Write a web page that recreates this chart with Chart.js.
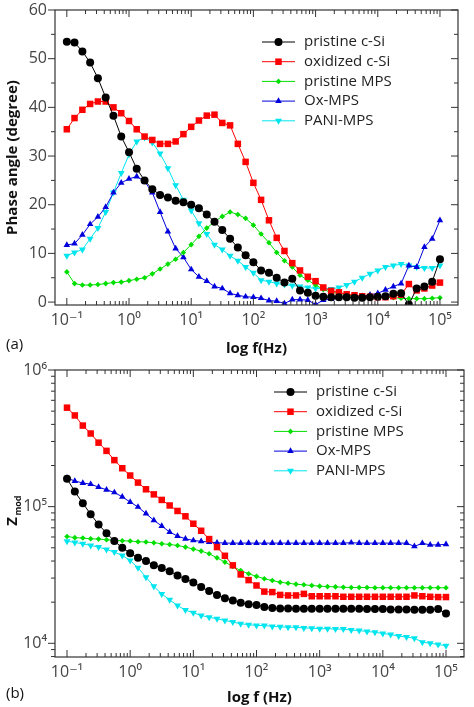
<!DOCTYPE html>
<html>
<head>
<meta charset="utf-8">
<script src="https://cdn.jsdelivr.net/npm/chart.js@4.4.0/dist/chart.umd.min.js"></script>
<style>
  body { margin: 0; background: #fff; }
  .panel { position: absolute; left: 0; width: 474px; }
</style>
</head>
<body>
<div class="panel" style="top:0;height:360px"><canvas id="phaseChart" width="474" height="360"></canvas></div>
<div class="panel" style="top:360px;height:347px"><canvas id="zmodChart" width="474" height="347"></canvas></div>
<script>
// Frequencies (Hz), 8 points per decade
const freq = [
  0.1, 0.133, 0.178, 0.237, 0.316, 0.422, 0.562, 0.75,
  1, 1.33, 1.78, 2.37, 3.16, 4.22, 5.62, 7.5,
  10, 13.3, 17.8, 23.7, 31.6, 42.2, 56.2, 75,
  100, 133, 178, 237, 316, 422, 562, 750,
  1000, 1330, 1780, 2370, 3160, 4220, 5620, 7500,
  10000, 13300, 17800, 23700, 31600, 42200, 56200, 75000, 100000
];
const seriesNames = ['pristine c-Si', 'oxidized c-Si', 'pristine MPS', 'Ox-MPS', 'PANI-MPS'];
const seriesColors = ['#000000', '#ff0000', '#00e000', '#0000dd', '#00e5ee'];

// Phase angle (degree)
const phasePristineSi = [53.5,53.3,51.5,49.2,46,42,38.3,34,30.8, 27.4,25,23.2,22,21.5,20.8,20.5,20,
  19.3,18,16.5,14.8,13,11.2,9.6,8.2, 6.5,6,5,4,4.8,2.4,1.9,1.3, 1.1,1,1,1,0.9,0.9,1,1.1,
  1.2,1.7,1.8,-0.5,2.8,3.2,4.2,8.8];
const phaseOxSi = [35.5,37.8,39.5,40.7,41.2,41.2,40,38.8,37.2, 35.5,34,33.3,32.5,32.5,33,34.5,36,
  37.3,38.3,38.5,36.8,36.3,32.5,28.8,24.5, 21,16.8,13.2,10.5,8,6.5,5.2,4.3, 3,2.3,2,1.6,1.4,1.2,1.1,1,
  1,1.2,1.5,3.7,2.4,2.8,3.4,4];
const phasePristineMps = [6.2,3.8,3.5,3.5,3.6,3.8,4,4.1,4.4, 4.7,5,5.8,6.8,7.8,8.8,10.2,11.8,
  13.5,15.2,16.5,17.6,18.5,18,17.2,15.8, 14,12.2,10.2,8.5,7.2,5.5,4.5,3.5, 2.6,2,1.8,1.5,1.3,1.2,1.2,1,
  1,0.9,0.8,0.7,0.7,0.7,0.8,0.9];
const phaseOxMps = [11.7,12,13.8,16,17.5,19.5,22.5,24.5,25.3, 25.8,24.8,22.5,18.5,14.5,11,9.2,6.7,
  5.2,4.3,3.2,2.8,1.8,1.4,1.1,1, 0.8,0.3,0.2,-0.3,0.5,0.5,0.4,-0.5, 0.4,0.6,0.8,1,1,1.2,1.5,1.8,
  2.5,3.2,3.8,7.5,7.2,11.3,13,16.8];
const phasePaniMps = [9.5,10.2,10.8,13,15.2,18.5,22.5,26.5,30.3, 33,33.8,32.8,30.5,27.5,24,21,18.8,
  16.2,14,11.8,10.8,9.5,8.5,7.2,6, 4.5,4.2,3.8,3.6,3.4,3.2,3,2.8, 2.8,2.7,3,3.5,4.2,5,5.8,6.5,
  7.2,7.5,7.8,7.5,7.2,7,7,7.5];

// Zmod (ohm, in thousands)
const zPristineSi = [160,129,106,88,74,64,56,50,45.7, 42.2,40,37.3,35.5,33.7,31.4,29.6,27.9,
  25.8,24.1,22.6,21.4,20.6,19.8,19.3,19.1, 18.4,18.1,18,18,17.9,17.9,17.9,17.9, 17.9,17.9,17.9,17.9,17.9,17.8,17.8,17.8,
  17.7,17.7,17.7,17.6,17.6,17.6,17.8,16.5];
const zOxSi = [530,465,392,343,294,256,219,191,169, 150,134,123,112,102,93,85,75,
  66.6,57.9,50.6,43.7,37.2,31.9,29,26.5, 23.9,23.7,22.6,22.4,22.4,23,22.1,22.1, 22.1,22.1,21.9,21.9,21.9,21.9,21.9,21.9,
  21.9,21.9,21.9,22.4,22.1,21.9,21.8,21.8];
const zPristineMps = [60.5,59.3,58.9,58.2,57.9,57.3,56.6,56.3,56, 55.4,55.1,54.5,53.5,52.9,52,50.6,48.9,
  47.3,45.2,42.2,39.3,36.5,34.1,32.3,30.9, 29.7,28.8,28,27.5,27.1,26.8,26.5,26.2, 26,25.9,25.7,25.6,25.6,25.6,25.5,25.5,
  25.5,25.5,25.5,25.5,25.5,25.5,25.5,25.5];
const zOxMps = [162,154,149,146,139,133,127,118,108, 99.5,88.9,79.4,72.2,65.2,60.9,58.2,56.6,
  55.7,55.1,54.5,54.1,54.1,54.1,54.1,54.1, 54.1,54.1,54.1,54.1,54.1,54.1,54.1,54.1, 54.1,54.1,54.1,54.5,54.1,54.1,54.1,54.1,
  54.1,54.1,54.1,51.2,54,52.5,52.5,53];
const zPaniMps = [55.8,54.7,53.5,52,50.6,48.6,46.5,43.9,40.4, 35.7,30.5,26.1,23,20.8,18.9,17.5,16.7,
  16,15.5,15.1,14.7,14.3,13.9,13.7,13.5, 13.5,13.3,13.2,13.1,13.1,12.96,12.9,12.8, 12.8,12.7,12.7,12.5,12.4,12.2,12.05,11.8,
  11.6,11.3,11.1,10.9,10.2,10,9.8,9.6];

const xTickLabels = ['10⁻¹', '10⁰', '10¹', '10²', '10³', '10⁴', '10⁵'];
const phaseTicks = [0, 10, 20, 30, 40, 50, 60];
const zTickLabels = ['10⁴', '10⁵', '10⁶'];

const markers = [
  { style: 'circle', r: 4, rot: 0 },
  { style: 'rect', r: 4.6, rot: 0 },
  { style: 'rectRot', r: 2.8, rot: 0 },
  { style: 'triangle', r: 3.8, rot: 0 },
  { style: 'triangle', r: 4, rot: 180 }
];

function makeDatasets(list, scale) {
  return list.map((vals, i) => ({
    label: seriesNames[i],
    data: vals.map((v, k) => ({ x: freq[k], y: v * scale })),
    borderColor: seriesColors[i],
    backgroundColor: seriesColors[i],
    borderWidth: 1,
    pointStyle: markers[i].style,
    pointRadius: markers[i].r,
    pointRotation: markers[i].rot,
    pointBorderWidth: 0,
    tension: 0
  }));
}

const FONT = '"Open Sans", "DejaVu Sans", sans-serif';

// Frame, ticks, tick labels, titles and legend
function framePlugin(cfg) {
  return {
    id: 'frame',
    afterDraw(chart) {
      const ctx = chart.ctx;
      const a = chart.chartArea;
      const xs = chart.scales.x, ys = chart.scales.y;
      ctx.save();
      ctx.strokeStyle = '#333';
      ctx.lineWidth = 1.2;
      ctx.strokeRect(a.left, a.top, a.right - a.left, a.bottom - a.top);
      ctx.lineWidth = 1;
      // x ticks (major + minor), inside at bottom and top
      for (let d = -1; d <= 5; d++) {
        for (let m = 1; m <= 9; m++) {
          const v = m * Math.pow(10, d);
          if (v < xs.min || v > xs.max) continue;
          const px = xs.getPixelForValue(v);
          const len = m === 1 ? 7 : 4;
          ctx.beginPath();
          ctx.moveTo(px, a.bottom); ctx.lineTo(px, a.bottom - len);
          ctx.moveTo(px, a.top); ctx.lineTo(px, a.top + len);
          ctx.stroke();
        }
      }
      // y ticks
      cfg.yTicks.forEach(t => {
        const py = ys.getPixelForValue(t.v);
        const len = t.major ? 7 : 4;
        ctx.beginPath();
        ctx.moveTo(a.left - len, py); ctx.lineTo(a.left, py);
        ctx.moveTo(a.right, py); ctx.lineTo(a.right - len, py);
        ctx.stroke();
      });
      // tick labels
      ctx.fillStyle = '#444';
      ctx.font = '16px ' + FONT;
      ctx.textAlign = 'center';
      ctx.textBaseline = 'top';
      xTickLabels.forEach((lab, i) => {
        ctx.fillText(lab, xs.getPixelForValue(Math.pow(10, i - 1)), a.bottom + 7);
      });
      ctx.textAlign = 'right';
      ctx.textBaseline = 'middle';
      cfg.yLabels.forEach(t => {
        ctx.fillText(t.text, a.left - 8, ys.getPixelForValue(t.v));
      });
      // titles
      ctx.fillStyle = '#111';
      ctx.font = 'bold 15px ' + FONT;
      ctx.textAlign = 'center';
      ctx.textBaseline = 'middle';
      ctx.fillText(cfg.xTitle, (a.left + a.right) / 2, cfg.xTitleY);
      ctx.font = '15px ' + FONT;
      ctx.textAlign = 'left';
      ctx.fillText(cfg.panel, 6, cfg.xTitleY - 4);
      ctx.save();
      ctx.translate(cfg.yTitleX, (a.top + a.bottom) / 2);
      ctx.rotate(-Math.PI / 2);
      ctx.textAlign = 'center';
      ctx.font = 'bold 15px ' + FONT;
      if (cfg.yTitle === 'Zmod') {
        ctx.fillText('Z', -8, 0);
        ctx.font = 'bold 9px ' + FONT;
        ctx.fillText('mod', 8, 5);
      } else {
        ctx.fillText(cfg.yTitle, 0, 0);
      }
      ctx.restore();
      // legend
      ctx.font = '15px ' + FONT;
      ctx.textAlign = 'left';
      ctx.textBaseline = 'middle';
      chart.data.datasets.forEach((ds, i) => {
        const y = cfg.legendY + i * 19.7;
        ctx.strokeStyle = ds.borderColor;
        ctx.beginPath();
        ctx.moveTo(cfg.legendX, y); ctx.lineTo(cfg.legendX + 33, y);
        ctx.stroke();
        ctx.fillStyle = ds.backgroundColor;
        Chart.helpers.drawPoint(ctx, {
          pointStyle: ds.pointStyle, radius: ds.pointRadius,
          rotation: ds.pointRotation, borderWidth: 0
        }, cfg.legendX + 16.5, y);
        ctx.fillStyle = '#222';
        ctx.fillText(ds.label, cfg.legendX + 42, y);
      });
      ctx.restore();
    }
  };
}

const phaseYTicks = [];
for (let v = 0; v <= 60; v += 5) phaseYTicks.push({ v: v, major: v % 10 === 0 });

new Chart(document.getElementById('phaseChart'), {
  type: 'line',
  data: { datasets: makeDatasets([phasePristineSi, phaseOxSi, phasePristineMps, phaseOxMps, phasePaniMps], 1) },
  options: {
    responsive: false,
    animation: false,
    layout: { padding: { left: 55, right: 16, top: 10, bottom: 55 } },
    plugins: { legend: { display: false }, tooltip: { enabled: false } },
    scales: {
      x: { type: 'logarithmic', display: false, min: Math.pow(10, -1.19), max: Math.pow(10, 5.29) },
      y: { type: 'linear', display: false, min: -0.6, max: 60 }
    }
  },
  plugins: [framePlugin({
    yTicks: phaseYTicks,
    yLabels: phaseTicks.map(v => ({ v: v, text: String(v) })),
    xTitle: 'log f(Hz)', xTitleY: 349, panel: '(a)',
    yTitle: 'Phase angle (degree)', yTitleX: 13,
    legendX: 262, legendY: 42
  })]
});

const zYTicks = [];
for (let d = 3; d <= 5; d++) {
  for (let m = 1; m <= 9; m++) {
    const v = m * Math.pow(10, d);
    if (v >= 7940) zYTicks.push({ v: v, major: m === 1 });
  }
}
zYTicks.push({ v: 1e6, major: true });

new Chart(document.getElementById('zmodChart'), {
  type: 'line',
  data: { datasets: makeDatasets([zPristineSi, zOxSi, zPristineMps, zOxMps, zPaniMps], 1000) },
  options: {
    responsive: false,
    animation: false,
    layout: { padding: { left: 55, right: 10, top: 10, bottom: 50 } },
    plugins: { legend: { display: false }, tooltip: { enabled: false } },
    scales: {
      x: { type: 'logarithmic', display: false, min: Math.pow(10, -1.19), max: Math.pow(10, 5.285) },
      y: { type: 'logarithmic', display: false, min: 7940, max: 1e6 }
    }
  },
  plugins: [framePlugin({
    yTicks: zYTicks,
    yLabels: zTickLabels.map((t, i) => ({ v: Math.pow(10, 4 + i), text: t })),
    xTitle: 'log f (Hz)', xTitleY: 338, panel: '(b)',
    yTitle: 'Zmod', yTitleX: 13,
    legendX: 274, legendY: 32
  })]
});
</script>
</body>
</html>
